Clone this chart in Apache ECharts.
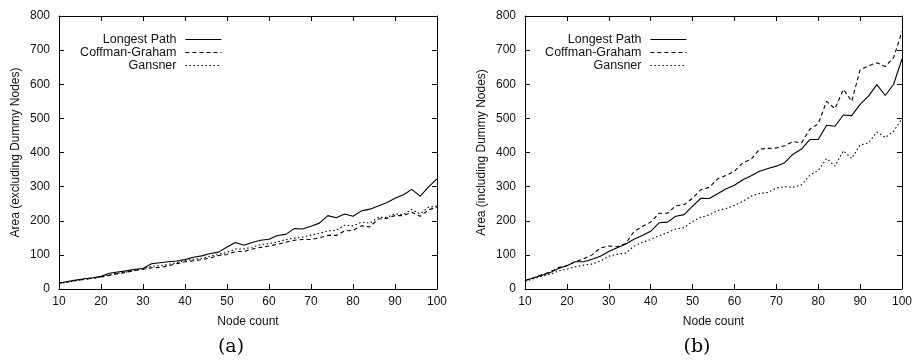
<!DOCTYPE html>
<html>
<head>
<meta charset="utf-8">
<script src="https://cdn.jsdelivr.net/npm/echarts@6/dist/echarts.min.js"></script>
<style>html,body{margin:0;padding:0;background:#fff}#c{width:915px;height:363px}</style>
</head>
<body>
<div id="c"></div>
<script>
// Node counts (x values)
var nodeCounts = [10,12,14,16,18,20,22,24,26,28,30,32,34,36,38,40,42,44,46,48,50,52,54,56,58,60,62,64,66,68,70,72,74,76,78,80,82,84,86,88,90,92,94,96,98,100];

// (a) Area excluding dummy nodes
var longestPathA = [17,22,26,30,33,37,46,50,53,58,60,74,77,80,82,86,93,97,104,108,123,136,128,136,143,146,157,160,177,176,184,193,215,209,220,213,229,234,243,253,266,276,292,272,299,323];
var coffmanA     = [17,21,25,28,32,35,40,45,49,54,58,62,63,68,74,80,83,86,91,98,101,110,110,117,122,126,131,137,143,145,145,150,157,157,170,172,185,182,205,207,215,215,225,213,232,240];
var gansnerA     = [16,20,24,28,31,35,42,46,50,55,59,66,68,72,77,83,87,90,96,102,107,117,117,123,130,133,138,145,149,152,158,163,170,172,187,185,196,193,210,210,220,218,233,220,240,243];

// (b) Area including dummy nodes
var longestPathB = [25,32,40,48,60,68,80,80,87,96,110,121,131,146,157,169,194,196,213,218,243,266,265,279,294,304,320,332,345,353,360,370,395,410,438,438,480,477,510,508,541,565,599,567,600,674];
var coffmanB     = [25,33,42,50,63,68,80,88,100,120,126,124,133,168,183,196,222,222,244,247,266,291,298,323,333,345,370,380,410,412,413,420,432,428,468,484,550,528,585,550,642,654,663,652,678,755];
var gansnerB     = [22,30,37,43,53,58,65,70,73,82,96,102,105,125,137,145,156,165,176,180,198,210,217,230,236,245,257,272,280,283,296,300,298,305,333,347,382,360,405,382,422,428,460,444,462,500];

var seriesNames = ['Longest Path', 'Coffman-Graham', 'Gansner'];
var yTitles = ['Area (excluding Dummy Nodes)', 'Area (including Dummy Nodes)'];
var xTitle = 'Node count';
var captions = ['(a)', '(b)'];

function pairs(ys) { return nodeCounts.map(function (x, i) { return [x, ys[i]]; }); }

var FONT = 'Liberation Sans, Arial, sans-serif';
var lineStyles = [
  { color: '#000', width: 1.1, type: 'solid' },
  { color: '#000', width: 1.1, type: [4, 3] },
  { color: '#000', width: 1.1, type: [1.5, 2.5] }
];

var grids = [
  { left: 59, top: 16, width: 378, height: 273 },
  { left: 525, top: 16, width: 378, height: 273 }
];

var axisCommonX = {
  type: 'value', min: 10, max: 100, interval: 10,
  axisLine: { show: true, onZero: false, lineStyle: { color: '#000', width: 1 } },
  axisTick: { show: true, inside: true, length: 5, lineStyle: { color: '#000' } },
  splitLine: { show: false }
};
var axisCommonY = {
  type: 'value', min: 0, max: 800, interval: 100,
  axisLine: { show: true, onZero: false, lineStyle: { color: '#000', width: 1 } },
  axisTick: { show: true, inside: true, length: 5, lineStyle: { color: '#000' } },
  splitLine: { show: false }
};

var xAxes = [], yAxes = [];
[0, 1].forEach(function (g) {
  xAxes.push(Object.assign({}, axisCommonX, {
    gridIndex: g, position: 'bottom',
    name: xTitle, nameLocation: 'middle', nameGap: 27,
    nameTextStyle: { fontFamily: FONT, fontSize: 12, color: '#111' },
    axisLabel: { fontFamily: FONT, fontSize: 12, color: '#111', margin: 7 }
  }));
  xAxes.push(Object.assign({}, axisCommonX, {
    gridIndex: g, position: 'top', axisLabel: { show: false }
  }));
  yAxes.push(Object.assign({}, axisCommonY, {
    gridIndex: g, position: 'left',
    name: yTitles[g], nameLocation: 'middle', nameGap: 37,
    nameTextStyle: { fontFamily: FONT, fontSize: 12, color: '#111' },
    axisLabel: { fontFamily: FONT, fontSize: 12, color: '#111', margin: 9 }
  }));
  yAxes.push(Object.assign({}, axisCommonY, {
    gridIndex: g, position: 'right', axisLabel: { show: false }
  }));
});

var dataSets = [[longestPathA, coffmanA, gansnerA], [longestPathB, coffmanB, gansnerB]];
var series = [];
[0, 1].forEach(function (g) {
  dataSets[g].forEach(function (ys, k) {
    series.push({
      type: 'line', name: seriesNames[k],
      xAxisIndex: g * 2, yAxisIndex: g * 2,
      data: pairs(ys), symbol: 'none', showSymbol: false,
      lineStyle: lineStyles[k], itemStyle: { color: '#000' },
      animation: false, silent: true
    });
  });
});

function legendAt(right) {
  return {
    orient: 'vertical', right: right, top: 33, align: 'right', padding: 0,
    itemWidth: 36, itemHeight: 10, itemGap: 0,
    data: seriesNames,
    itemStyle: { opacity: 0 },
    lineStyle: { width: 1.1 },
    textStyle: { fontFamily: FONT, fontSize: 12.5, lineHeight: 12.5, color: '#111', padding: [0, 4, 0, 0] }
  };
}

var chart = echarts.init(document.getElementById('c'), null, { renderer: 'canvas' });
chart.setOption({
  backgroundColor: '#fff',
  animation: false,
  grid: grids,
  xAxis: xAxes,
  yAxis: yAxes,
  legend: [legendAt(693), legendAt(228)],
  series: series,
  graphic: [
    { type: 'text', x: 231, y: 347, style: { text: captions[0], font: '19px "DejaVu Serif", "Liberation Serif", serif', fill: '#000', textAlign: 'center', textVerticalAlign: 'middle' } },
    { type: 'text', x: 697, y: 347, style: { text: captions[1], font: '19px "DejaVu Serif", "Liberation Serif", serif', fill: '#000', textAlign: 'center', textVerticalAlign: 'middle' } }
  ]
});
</script>
</body>
</html>
